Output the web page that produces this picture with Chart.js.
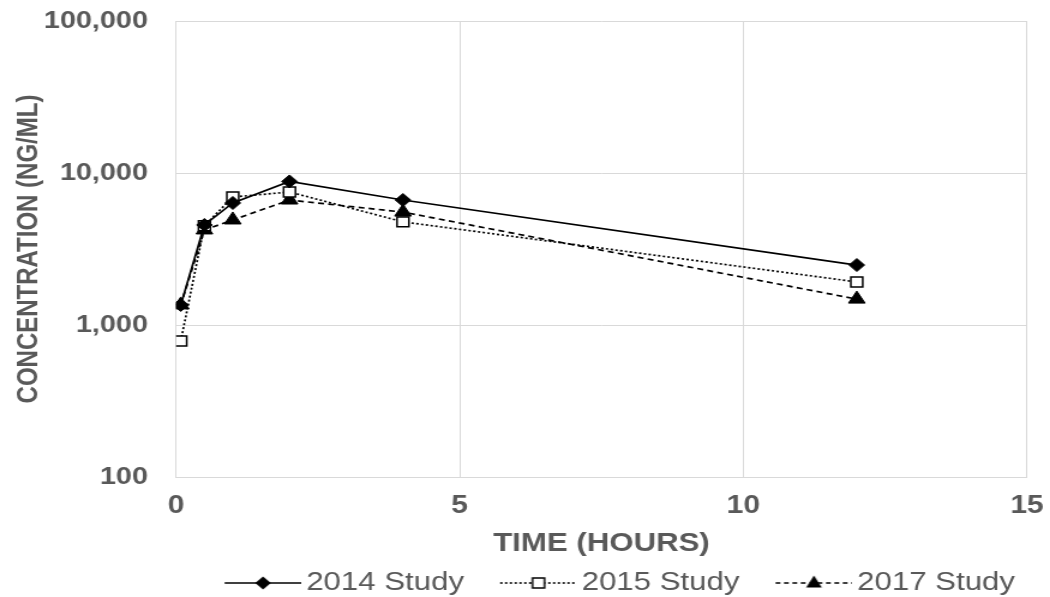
<!DOCTYPE html>
<html>
<head>
<meta charset="utf-8">
<script src="https://cdn.jsdelivr.net/npm/chart.js@4"></script>
<style>
  html, body { margin: 0; padding: 0; background: #ffffff; overflow: hidden; }
  /* the chart is laid out on a narrower canvas and stretched horizontally */
  #wrap { width: 875px; height: 597px; transform: scaleX(1.2); transform-origin: 0 0; }
</style>
</head>
<body>
<div id="wrap"><canvas id="c" width="875" height="597"></canvas></div>
<script>
// Sampling times (hours) and mean plasma concentrations (ng/mL) per study
const timeHours = [0.083, 0.5, 1, 2, 4, 12];
const study2014 = [1355, 4550, 6350, 8800, 6640, 2480];
const study2015 = [785, 4500, 6950, 7500, 4770, 1920];
const study2017 = [1355, 4220, 4910, 6640, 5530, 1480];
const seriesNames = ['2014 Study', '2015 Study', '2017 Study'];

// Axis ticks
const yTickValues = [100, 1000, 10000, 100000];
const xTickValues = [0, 5, 10, 15];

const TEXT = '#595959';
const GRID = '#d9d9d9';
const FONT = "'Liberation Sans', Arial, sans-serif";
const LEGEND_FONT = 26;

function toPoints(values) {
  return values.map((v, i) => ({ x: timeHours[i], y: v }));
}

// Marker painters for the legend samples
function drawMarker(g, kind, cx, cy) {
  g.setLineDash([]);
  g.fillStyle = '#000';
  g.strokeStyle = '#000';
  g.lineWidth = 1.5;
  g.beginPath();
  if (kind === 'diamond') {
    const r = 6.5;
    g.moveTo(cx, cy - r); g.lineTo(cx + r, cy); g.lineTo(cx, cy + r); g.lineTo(cx - r, cy); g.closePath();
    g.fill();
  } else if (kind === 'square') {
    const h = 5;
    g.fillStyle = '#fff';
    g.rect(cx - h, cy - h, 2 * h, 2 * h);
    g.fill(); g.stroke();
  } else {
    const r = 7.5;
    g.moveTo(cx, cy - r); g.lineTo(cx + r * 0.87, cy + r * 0.6); g.lineTo(cx - r * 0.87, cy + r * 0.6); g.closePath();
    g.fill();
  }
}

// Legend sample: blank lead-in, then a line with the series marker in its middle.
// The library centres the image in a box of width pointStyleWidth and puts the
// text half a font size to the right, so the image is widened to reach the text.
const LINE_W = 64;
const LEAD = 20;
const TEXT_GAP = 4;
const BOX_W = LEAD + LINE_W - (LEGEND_FONT / 2 - TEXT_GAP);
function legendSample(dash, kind) {
  const c = document.createElement('canvas');
  const over = LEGEND_FONT / 2 - TEXT_GAP;
  const w = BOX_W + 2 * over;
  c.width = w; c.height = 20;
  const g = c.getContext('2d');
  const x0 = over + LEAD;
  const x1 = w;
  g.strokeStyle = '#000';
  g.lineWidth = 1.6;
  g.setLineDash(dash);
  g.beginPath(); g.moveTo(x0, 10); g.lineTo(x1, 10); g.stroke();
  drawMarker(g, kind, (x0 + x1) / 2, 10);
  return c;
}

const samples = [
  legendSample([], 'diamond'),
  legendSample([2, 2], 'square'),
  legendSample([4, 3], 'triangle')
];

const ctx = document.getElementById('c');
new Chart(ctx, {
  type: 'scatter',
  data: {
    datasets: [
      {
        label: seriesNames[0],
        data: toPoints(study2014),
        showLine: true,
        borderColor: '#000',
        borderWidth: 1.7,
        pointStyle: 'rectRot',
        pointRadius: 6.5,
        pointBackgroundColor: '#000',
        pointBorderColor: '#000',
        pointBorderWidth: 1
      },
      {
        label: seriesNames[1],
        data: toPoints(study2015),
        showLine: true,
        borderColor: '#000',
        borderWidth: 1.7,
        borderDash: [2, 2],
        pointStyle: 'rect',
        pointRadius: 7,
        pointBackgroundColor: '#fff',
        pointBorderColor: '#000',
        pointBorderWidth: 1.5
      },
      {
        label: seriesNames[2],
        data: toPoints(study2017),
        showLine: true,
        borderColor: '#000',
        borderWidth: 1.7,
        borderDash: [5, 3.5],
        pointStyle: 'triangle',
        pointRadius: 8,
        pointBackgroundColor: '#000',
        pointBorderColor: '#000',
        pointBorderWidth: 1
      }
    ]
  },
  options: {
    responsive: false,
    animation: false,
    devicePixelRatio: 1,
    layout: { padding: { top: 21, right: 19.2, left: 0, bottom: -9 } },
    plugins: {
      tooltip: { enabled: false },
      legend: {
        position: 'bottom',
        align: 'end',
        labels: {
          usePointStyle: true,
          pointStyleWidth: BOX_W,
          padding: 10,
          color: TEXT,
          font: { family: FONT, size: LEGEND_FONT },
          generateLabels: () => seriesNames.map((name, i) => ({
            text: name,
            pointStyle: samples[i],
            fillStyle: '#000',
            strokeStyle: '#000',
            lineWidth: 0,
            hidden: false,
            datasetIndex: i,
            fontColor: TEXT
          }))
        }
      }
    },
    scales: {
      x: {
        type: 'linear',
        min: 0,
        max: 15,
        afterBuildTicks: s => { s.ticks = xTickValues.map(v => ({ value: v })); },
        afterFit: s => { s.height = 83; s.paddingLeft = 0; s.paddingRight = 0; },
        grid: { color: GRID, lineWidth: 1, drawTicks: false },
        border: { color: GRID, width: 1 },
        ticks: {
          padding: 14,
          color: TEXT,
          maxRotation: 0,
          font: { family: FONT, size: 25, weight: 'bold' }
        },
        title: {
          display: true,
          text: 'TIME (HOURS)',
          color: TEXT,
          padding: { top: 0, bottom: 1 },
          font: { family: FONT, size: 26, weight: 'bold' }
        }
      },
      y: {
        type: 'logarithmic',
        min: 100,
        max: 100000,
        afterBuildTicks: s => { s.ticks = yTickValues.map(v => ({ value: v })); },
        afterFit: s => { s.width = 146.7; s.paddingTop = 0; s.paddingBottom = 0; },
        grid: { color: GRID, lineWidth: 1, drawTicks: false },
        border: { color: GRID, width: 1 },
        ticks: {
          padding: 23.4,
          color: TEXT,
          font: { family: FONT, size: 24, weight: 'bold' },
          callback: v => Number(v).toLocaleString('en-US')
        },
        title: {
          display: true,
          text: 'CONCENTRATION (NG/ML)',
          color: TEXT,
          padding: { top: 9.5, bottom: 0 },
          font: { family: FONT, size: 24, weight: 'bold' }
        }
      }
    }
  }
});
</script>
</body>
</html>
